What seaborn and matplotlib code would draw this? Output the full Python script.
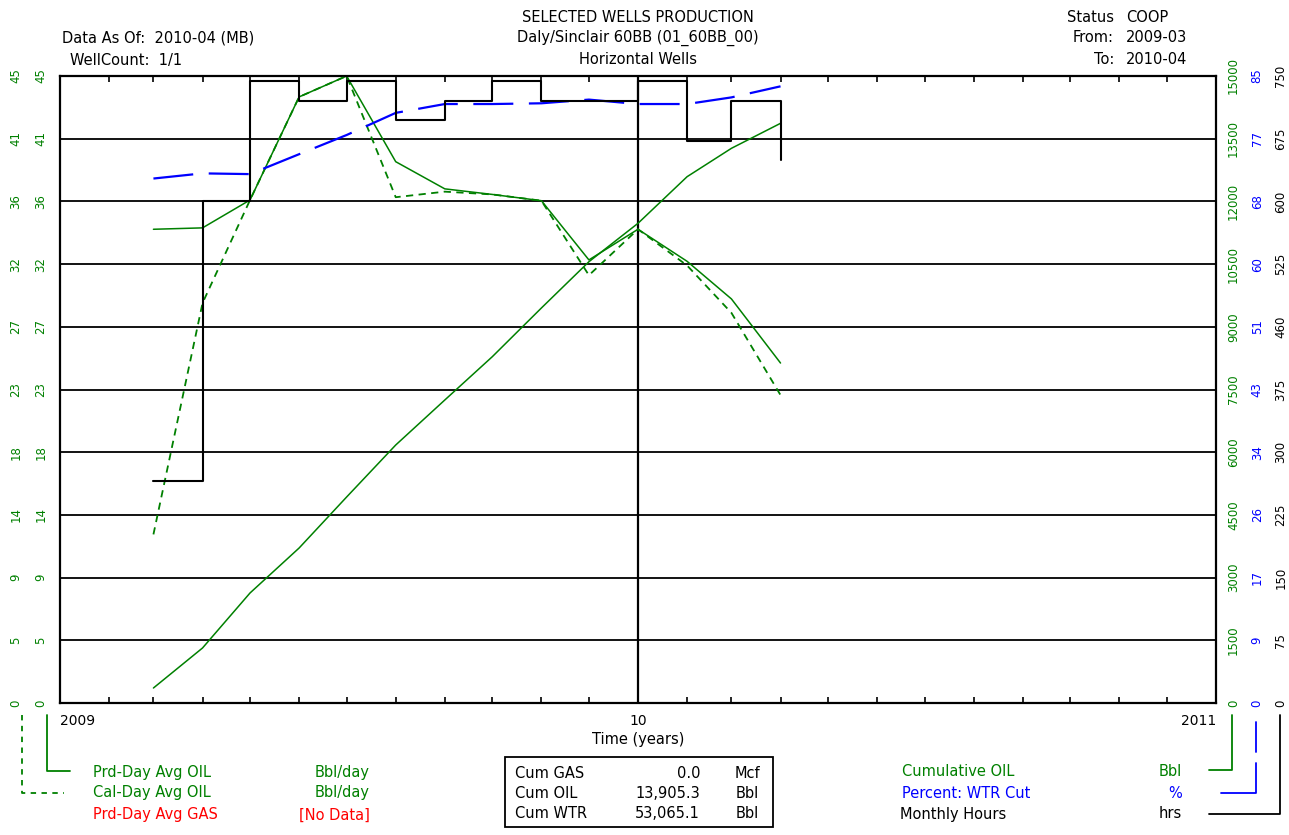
import matplotlib
matplotlib.use("Agg")
import matplotlib.pyplot as plt
import matplotlib.dates as mdates
from matplotlib.lines import Line2D
from matplotlib.patches import Rectangle
import seaborn as sns
import pandas as pd
import numpy as np

# monthly data
months = ["2009-03", "2009-04", "2009-05", "2009-06", "2009-07", "2009-08", "2009-09",
          "2009-10", "2009-11", "2009-12", "2010-01", "2010-02", "2010-03", "2010-04"]
prd_day_oil = [34.0, 34.1, 36.1, 43.5, 45.0, 38.85, 36.9, 36.5, 36.05, 31.8, 34.0, 31.7, 29.0, 24.4]
cal_day_oil = [12.1, 28.7, 36.1, 43.5, 45.0, 36.3, 36.7, 36.5, 36.05, 30.7, 34.0, 31.4, 28.0, 22.1]
cum_oil = [359, 1316, 2632, 3708, 4928, 6172, 7249, 8285, 9450, 10557, 11476, 12591, 13270, 13868]
wtr_cut = [71.1, 71.8, 71.7, 74.4, 77.0, 80.0, 81.2, 81.2, 81.3, 81.8, 81.2, 81.2, 82.1, 83.6]
hours = [265, 600, 744, 720, 744, 697, 720, 744, 720, 720, 744, 672, 720, 650]

# axis tick labels
oil_ticks = ["0", "5", "9", "14", "18", "23", "27", "32", "36", "41", "45"]
cum_ticks = ["0", "1500", "3000", "4500", "6000", "7500", "9000", "10500", "12000", "13500", "15000"]
wtr_ticks = ["0", "9", "17", "26", "34", "43", "51", "60", "68", "77", "85"]
hrs_ticks = ["0", "75", "150", "225", "300", "375", "460", "525", "600", "675", "750"]
year_labels = ["2009", "10", "2011"]

GREEN = "#008000"
BLUE = "#0000ff"
RED = "#ff0000"

sns.set_theme(style="white")
plt.rcParams["font.family"] = ["DejaVu Sans"]
plt.rcParams["text.color"] = "black"
plt.rcParams["axes.labelcolor"] = "black"

W, H = 1289, 835
fig = plt.figure(figsize=(W / 100, H / 100), dpi=100)
fig.patch.set_facecolor("white")


def fx(px):
    return px / W


def fy(py):
    return 1 - py / H


ax = fig.add_axes([fx(60), fy(703), (1216 - 60) / W, (703 - 76) / H])
dates = pd.to_datetime(months)

ax_cal = ax.twinx()
ax_cum = ax.twinx()
ax_wtr = ax.twinx()
ax_hrs = ax.twinx()

sns.lineplot(x=dates, y=prd_day_oil, ax=ax, color=GREEN, lw=1.1)
sns.lineplot(x=dates, y=cal_day_oil, ax=ax_cal, color=GREEN, lw=1.3, linestyle=(0, (4, 3)))
sns.lineplot(x=dates, y=cum_oil, ax=ax_cum, color=GREEN, lw=1.1)
sns.lineplot(x=dates, y=wtr_cut, ax=ax_wtr, color=BLUE, lw=1.6, linestyle=(0, (18, 7)))
sns.lineplot(x=dates, y=hours, ax=ax_hrs, color="black", lw=1.5, drawstyle="steps-post")

# y scales
ax.set_ylim(0, 45)
ax.set_yticks(np.linspace(0, 45, 11), oil_ticks)
ax_cal.set_ylim(0, 45)
ax_cal.set_yticks(np.linspace(0, 45, 11), oil_ticks)
ax_cal.yaxis.set_ticks_position("left")
ax_cum.set_ylim(0, 15000)
ax_cum.set_yticks(np.linspace(0, 15000, 11), cum_ticks)
ax_wtr.set_ylim(0, 85)
ax_wtr.set_yticks(np.linspace(0, 85, 11), wtr_ticks)
ax_hrs.set_ylim(0, 750)
ax_hrs.set_yticks(np.linspace(0, 750, 11), hrs_ticks)

for a, pad, col in [(ax, 9, GREEN), (ax_cal, 27, GREEN), (ax_cum, 8, GREEN),
                    (ax_wtr, 25, BLUE), (ax_hrs, 42, "black")]:
    a.tick_params(axis="y", length=0, pad=pad, labelsize=8.5, labelcolor=col, labelrotation=90)
    for t in a.get_yticklabels():
        t.set_va("center")
    a.set_ylabel("")
    a.set_xlabel("")
    if a is not ax:
        for s in a.spines.values():
            s.set_visible(False)
        a.tick_params(axis="x", which="both", length=0, labelbottom=False)

# x scale
ax.set_xlim(pd.Timestamp("2009-01-01"), pd.Timestamp("2011-01-01"))
ax.set_xticks(pd.to_datetime(["2009-01-01", "2010-01-01", "2011-01-01"]), year_labels)
ax.xaxis.set_minor_locator(mdates.MonthLocator())
ax.tick_params(axis="x", which="major", length=0, pad=8, labelsize=10, labelcolor="black")
ax.tick_params(axis="x", which="minor", direction="in", length=4, width=1.2,
               top=True, bottom=True, color="black")
xl = ax.get_xticklabels()
xl[0].set_ha("left")
xl[-1].set_ha("right")
ax.set_xlabel("Time (years)", fontsize=10.5, labelpad=3, color="black")

# grid
for v in np.linspace(0, 45, 11)[1:-1]:
    ax.axhline(v, color="black", lw=1.3, zorder=0)
ax.axvline(pd.Timestamp("2010-01-01"), color="black", lw=1.6, zorder=0)
for s in ax.spines.values():
    s.set_color("black")
    s.set_linewidth(1.6)

# header
fs = 10.5
fig.text(fx(638), fy(17), "SELECTED WELLS PRODUCTION", ha="center", va="center", fontsize=fs)
fig.text(fx(638), fy(38), "Daly/Sinclair 60BB (01_60BB_00)", ha="center", va="center", fontsize=fs)
fig.text(fx(638), fy(60), "Horizontal Wells", ha="center", va="center", fontsize=fs)
fig.text(fx(62), fy(38), "Data As Of:  2010-04 (MB)", ha="left", va="center", fontsize=fs)
fig.text(fx(70), fy(60), "WellCount:  1/1", ha="left", va="center", fontsize=fs)
for py, lab, val in [(17, "Status", "COOP"), (38, "From:", "2009-03"), (60, "To:", "2010-04")]:
    fig.text(fx(1114), fy(py), lab, ha="right", va="center", fontsize=fs)
    fig.text(fx(1126), fy(py), val, ha="left", va="center", fontsize=fs)

# left legend
fig.text(fx(93), fy(772), "Prd-Day Avg OIL", color=GREEN, ha="left", va="center", fontsize=fs)
fig.text(fx(370), fy(772), "Bbl/day", color=GREEN, ha="right", va="center", fontsize=fs)
fig.text(fx(93), fy(793), "Cal-Day Avg OIL", color=GREEN, ha="left", va="center", fontsize=fs)
fig.text(fx(370), fy(793), "Bbl/day", color=GREEN, ha="right", va="center", fontsize=fs)
fig.text(fx(93), fy(815), "Prd-Day Avg GAS", color=RED, ha="left", va="center", fontsize=fs)
fig.text(fx(370), fy(815), "[No Data]", color=RED, ha="right", va="center", fontsize=fs)

fig.add_artist(Line2D([fx(47), fx(47), fx(70)], [fy(715), fy(771), fy(771)], color=GREEN, lw=1.3))
fig.add_artist(Line2D([fx(22), fx(22), fx(64)], [fy(715), fy(793), fy(793)], color=GREEN, lw=1.3,
                      linestyle=(0, (3, 3))))

# cumulative box
fig.add_artist(Rectangle((fx(505), fy(827)), (773 - 505) / W, (827 - 757) / H, fill=False,
                         edgecolor="black", lw=1.3))
for py, lab, val, unit in [(773, "Cum GAS", "0.0", "Mcf"), (793, "Cum OIL", "13,905.3", "Bbl"),
                           (814, "Cum WTR", "53,065.1", "Bbl")]:
    fig.text(fx(515), fy(py), lab, ha="left", va="center", fontsize=fs)
    fig.text(fx(700), fy(py), val, ha="right", va="center", fontsize=fs)
    fig.text(fx(747), fy(py), unit, ha="center", va="center", fontsize=fs)

# right legend
fig.text(fx(902), fy(772), "Cumulative OIL", color=GREEN, ha="left", va="center", fontsize=fs)
fig.text(fx(1182), fy(772), "Bbl", color=GREEN, ha="right", va="center", fontsize=fs)
fig.text(fx(902), fy(793), "Percent: WTR Cut", color=BLUE, ha="left", va="center", fontsize=fs)
fig.text(fx(1182), fy(793), "%", color=BLUE, ha="right", va="center", fontsize=fs)
fig.text(fx(900), fy(814), "Monthly Hours", color="black", ha="left", va="center", fontsize=fs)
fig.text(fx(1182), fy(814), "hrs", color="black", ha="right", va="center", fontsize=fs)

fig.add_artist(Line2D([fx(1232), fx(1232), fx(1209)], [fy(715), fy(770), fy(770)], color=GREEN, lw=1.3))
fig.add_artist(Line2D([fx(1256), fx(1256)], [fy(722), fy(752)], color=BLUE, lw=1.3))
fig.add_artist(Line2D([fx(1256), fx(1256), fx(1221)], [fy(763), fy(793), fy(793)], color=BLUE, lw=1.3))
fig.add_artist(Line2D([fx(1280), fx(1280), fx(1209)], [fy(715), fy(814), fy(814)], color="black", lw=1.3))

fig.savefig("out.png", dpi=100)
